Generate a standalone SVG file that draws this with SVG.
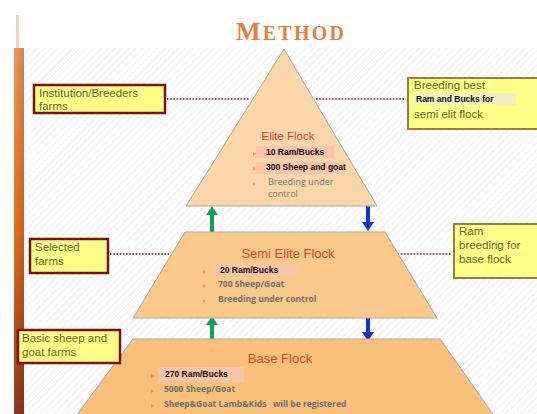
<svg xmlns="http://www.w3.org/2000/svg" width="537" height="414" viewBox="0 0 537 414">
<defs>
<pattern id="hatch" width="5" height="5" patternUnits="userSpaceOnUse" patternTransform="rotate(45)">
<rect width="5" height="5" fill="#ffffff"/>
<line x1="0" y1="0" x2="0" y2="5" stroke="#e9e9e9" stroke-width="1.4"/>
</pattern>
<linearGradient id="bar" x1="0" y1="0" x2="0" y2="1">
<stop offset="0" stop-color="#EE9A5C"/>
<stop offset="0.5" stop-color="#EB6E1E"/>
<stop offset="1" stop-color="#8E3A1E"/>
</linearGradient>
<linearGradient id="barSide" x1="0" y1="0" x2="1" y2="0">
<stop offset="0" stop-color="#000" stop-opacity="0"/>
<stop offset="1" stop-color="#000" stop-opacity="0.15"/>
</linearGradient>
</defs>
<style>
.lbl{font-family:"Liberation Sans",Arial,sans-serif;font-size:11.5px;fill:#5C6A30}
.rbox{fill:#FFFF88;stroke:#7A1212;stroke-width:2.5}
.gbox{fill:#FFFF88;stroke:#A6783A;stroke-width:2}
.dot{stroke:#7A1212;stroke-width:1.6;stroke-dasharray:1.6 1.6;fill:none}
.tier1{fill:#FAD6A8;stroke:#A8A8A8;stroke-width:1}
.tier2{fill:#FAC98A;stroke:#A8A8A8;stroke-width:1}
.tier3{fill:#F9C07C;stroke:#A8A8A8;stroke-width:1}
.head{font-family:"Liberation Sans",Arial,sans-serif;fill:#D9442C}
.blk{font-family:"Liberation Sans",Arial,sans-serif;font-weight:bold;font-size:8.5px;fill:#111}
.gry{font-family:"Open Sans","Liberation Sans",sans-serif;font-size:9px;fill:#777}
.gryb{font-family:"Open Sans","Liberation Sans",sans-serif;font-weight:bold;font-size:8.5px;fill:#6E6E6E}
.bul{fill:#E89A4A}
.hl{fill:#F8C4AA}
.up{stroke:#13A052;stroke-width:4}
.dn{stroke:#1130E0;stroke-width:4}
</style>
<rect width="537" height="414" fill="#ffffff"/>
<rect x="24" y="48" width="513" height="366" fill="url(#hatch)"/>
<rect x="16" y="15" width="3" height="33" fill="#F2D0C2"/>
<rect x="14" y="48" width="10" height="366" fill="url(#bar)"/>
<rect x="14" y="48" width="10" height="366" fill="url(#barSide)"/>
<text x="236" y="40" textLength="108" lengthAdjust="spacing" font-family="Liberation Serif,serif" font-weight="bold" fill="#E4803C"><tspan font-size="26">M</tspan><tspan font-size="20">ETHOD</tspan></text>

<g id="connectors">
<line class="dot" x1="167" y1="99" x2="250" y2="99"/>
<line class="dot" x1="316" y1="99" x2="406" y2="99"/>
<line class="dot" x1="110" y1="254" x2="169" y2="254"/>
<line class="dot" x1="388" y1="254" x2="452" y2="254"/>
<line class="up" x1="212" y1="232" x2="212" y2="213"/>
<path d="M206,215 L212,206 L218,215 Z" fill="#13A052"/>
<line class="dn" x1="368" y1="206" x2="368" y2="224"/>
<path d="M362,222 L368,231 L374,222 Z" fill="#1130E0"/>
<line class="up" x1="212" y1="339" x2="212" y2="323"/>
<path d="M206,325 L212,316 L218,325 Z" fill="#13A052"/>
<line class="dn" x1="368" y1="317" x2="368" y2="333"/>
<path d="M362,332 L368,341 L374,332 Z" fill="#1130E0"/>
</g>

<g id="elite">
<path class="tier1" d="M284,49 L377,206 L186,206 Z"/>
<text class="head" x="288" y="140" font-size="11.5" text-anchor="middle">Elite Flock</text>
<rect class="hl" x="256" y="146" width="78" height="12"/>
<rect class="hl" x="256" y="162" width="89" height="12"/>
<path class="bul" d="M253,152 l3,2 l-3,2 Z"/>
<text class="blk" x="266" y="155">10 Ram/Bucks</text>
<path class="bul" d="M253,167 l3,2 l-3,2 Z"/>
<text class="blk" x="266" y="170">300 Sheep and goat</text>
<path class="bul" d="M253,182 l3,2 l-3,2 Z"/>
<text class="gry" x="268" y="185">Breeding under</text>
<text class="gry" x="268" y="197">control</text>
</g>

<g id="semi-elite">
<path class="tier2" d="M185,232 L385,232 L437,318 L133,318 Z"/>
<text class="head" x="288" y="258" font-size="13" text-anchor="middle">Semi Elite Flock</text>
<rect class="hl" x="211" y="264" width="87" height="12"/>
<path class="bul" d="M203,270 l3,2 l-3,2 Z"/>
<text class="blk" x="220" y="273">20 Ram/Bucks</text>
<path class="bul" d="M203,284 l3,2 l-3,2 Z"/>
<text class="gryb" x="218" y="287">700 Sheep/Goat</text>
<path class="bul" d="M203,299 l3,2 l-3,2 Z"/>
<text class="gryb" x="218" y="302">Breeding under control</text>
</g>

<g id="base">
<path class="tier3" d="M133,339 L440,339 L500,424 L70,424 Z"/>
<text class="head" x="280" y="363" font-size="13" text-anchor="middle">Base Flock</text>
<rect class="hl" x="159" y="367" width="85" height="15"/>
<path class="bul" d="M151,374 l3,2 l-3,2 Z"/>
<text class="blk" x="165" y="377">270 Ram/Bucks</text>
<path class="bul" d="M151,389 l3,2 l-3,2 Z"/>
<text class="gryb" x="164" y="392">5000 Sheep/Goat</text>
<path class="bul" d="M151,404 l3,2 l-3,2 Z"/>
<text class="gryb" x="164" y="407" xml:space="preserve">Sheep&amp;Goat Lamb&amp;Kids   will be registered</text>
</g>

<g id="institution">
<rect class="rbox" x="34" y="85" width="131" height="28"/>
<text class="lbl" x="39" y="97">Institution/Breeders</text>
<text class="lbl" x="39" y="110">farms</text>
</g>

<g id="breeding-best">
<rect class="gbox" x="408" y="78" width="134" height="51"/>
<text class="lbl" x="414" y="89">Breeding best</text>
<rect x="414" y="93" width="102" height="12" fill="#F0F0C0"/>
<text class="blk" x="416" y="102">Ram and Bucks for</text>
<text class="lbl" x="414" y="118">semi elit flock</text>
</g>

<g id="selected">
<rect class="rbox" x="30" y="239" width="78" height="34"/>
<text class="lbl" x="35" y="251">Selected</text>
<text class="lbl" x="35" y="265">farms</text>
</g>

<g id="ram-breeding">
<rect class="gbox" x="454" y="224" width="88" height="54"/>
<text class="lbl" x="459" y="235">Ram</text>
<text class="lbl" x="459" y="249">breeding for</text>
<text class="lbl" x="459" y="263">base flock</text>
</g>

<g id="basic">
<rect class="rbox" x="18" y="330" width="102" height="33"/>
<text class="lbl" x="22" y="342">Basic sheep and</text>
<text class="lbl" x="22" y="356">goat farms</text>
</g>
</svg>
